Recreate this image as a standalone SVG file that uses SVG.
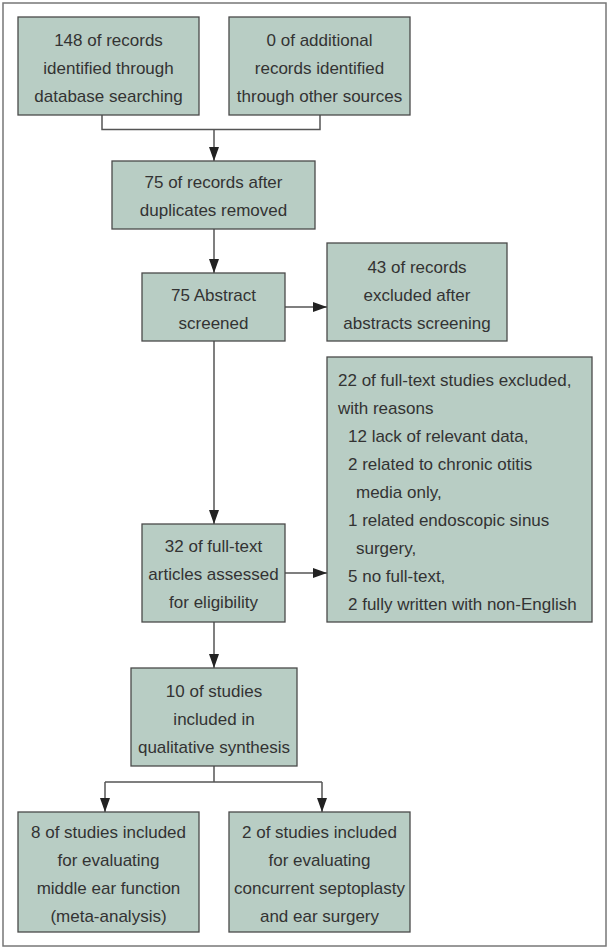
<svg xmlns="http://www.w3.org/2000/svg" width="609" height="949" viewBox="0 0 609 949">
<defs>
<style>
.box{fill:#b8cdc4;stroke:#4a4a4a;stroke-width:1.3}
.t{font-family:"Liberation Sans",Arial,sans-serif;font-size:17px;fill:#333;text-anchor:middle;dominant-baseline:central}
.l{font-family:"Liberation Sans",Arial,sans-serif;font-size:17px;fill:#333;dominant-baseline:central}
.c{fill:none;stroke:#555;stroke-width:1.5}
</style>
<marker id="ah" viewBox="0 0 14 10" refX="14" refY="5" markerWidth="14" markerHeight="10" markerUnits="userSpaceOnUse" orient="auto">
<path d="M0,0 L14,5 L0,10 z" fill="#222"/>
</marker>
</defs>
<rect x="0" y="0" width="609" height="949" fill="#fff"/>
<rect x="3" y="3" width="603" height="943" fill="none" stroke="#777" stroke-width="1.5"/>

<g id="connectors">
<path class="c" d="M102,115 V129.5 H320 V115"/>
<path class="c" d="M214,129.5 V161" marker-end="url(#ah)"/>
<path class="c" d="M214,229 V273" marker-end="url(#ah)"/>
<path class="c" d="M285,307 H327" marker-end="url(#ah)"/>
<path class="c" d="M214,341 V524" marker-end="url(#ah)"/>
<path class="c" d="M285,573 H327" marker-end="url(#ah)"/>
<path class="c" d="M214,622 V668" marker-end="url(#ah)"/>
<path class="c" d="M214,766 V782"/>
<path class="c" d="M105,782 H322"/>
<path class="c" d="M105,782 V812" marker-end="url(#ah)"/>
<path class="c" d="M322,782 V812" marker-end="url(#ah)"/>
</g>

<g id="n1">
<rect class="box" x="18" y="17" width="181" height="98"/>
<text class="t" x="108.5" y="40">148 of records</text>
<text class="t" x="108.5" y="68">identified through</text>
<text class="t" x="108.5" y="96">database searching</text>
</g>
<g id="n2">
<rect class="box" x="229" y="17" width="181" height="98"/>
<text class="t" x="319.5" y="40">0 of additional</text>
<text class="t" x="319.5" y="68">records identified</text>
<text class="t" x="319.5" y="96">through other sources</text>
</g>
<g id="n3">
<rect class="box" x="112" y="161" width="203" height="68"/>
<text class="t" x="213.5" y="182">75 of records after</text>
<text class="t" x="213.5" y="210">duplicates removed</text>
</g>
<g id="n4">
<rect class="box" x="142" y="273" width="143" height="68"/>
<text class="t" x="213.5" y="295">75 Abstract</text>
<text class="t" x="213.5" y="323">screened</text>
</g>
<g id="n5">
<rect class="box" x="327" y="243" width="180" height="98"/>
<text class="t" x="417" y="267">43 of records</text>
<text class="t" x="417" y="295">excluded after</text>
<text class="t" x="417" y="323">abstracts screening</text>
</g>
<g id="n6">
<rect class="box" x="327" y="357" width="265" height="265"/>
<text class="l" x="338" y="380">22 of full-text studies excluded,</text>
<text class="l" x="338" y="408">with reasons</text>
<text class="l" x="348" y="436">12 lack of relevant data,</text>
<text class="l" x="348" y="464">2 related to chronic otitis</text>
<text class="l" x="356" y="492">media only,</text>
<text class="l" x="348" y="520">1 related endoscopic sinus</text>
<text class="l" x="356" y="548">surgery,</text>
<text class="l" x="348" y="576">5 no full-text,</text>
<text class="l" x="348" y="604">2 fully written with non-English</text>
</g>
<g id="n7">
<rect class="box" x="142" y="524" width="143" height="98"/>
<text class="t" x="213.5" y="546">32 of full-text</text>
<text class="t" x="213.5" y="574">articles assessed</text>
<text class="t" x="213.5" y="602">for eligibility</text>
</g>
<g id="n8">
<rect class="box" x="131" y="668" width="166" height="98"/>
<text class="t" x="214" y="691">10 of studies</text>
<text class="t" x="214" y="719">included in</text>
<text class="t" x="214" y="747">qualitative synthesis</text>
</g>
<g id="n9">
<rect class="box" x="18" y="812" width="181" height="120"/>
<text class="t" x="108.5" y="832">8 of studies included</text>
<text class="t" x="108.5" y="860">for evaluating</text>
<text class="t" x="108.5" y="888">middle ear function</text>
<text class="t" x="108.5" y="916">(meta-analysis)</text>
</g>
<g id="n10">
<rect class="box" x="229" y="812" width="181" height="120"/>
<text class="t" x="319.5" y="832">2 of studies included</text>
<text class="t" x="319.5" y="860">for evaluating</text>
<text class="t" x="319.5" y="888">concurrent septoplasty</text>
<text class="t" x="319.5" y="916">and ear surgery</text>
</g>
</svg>
